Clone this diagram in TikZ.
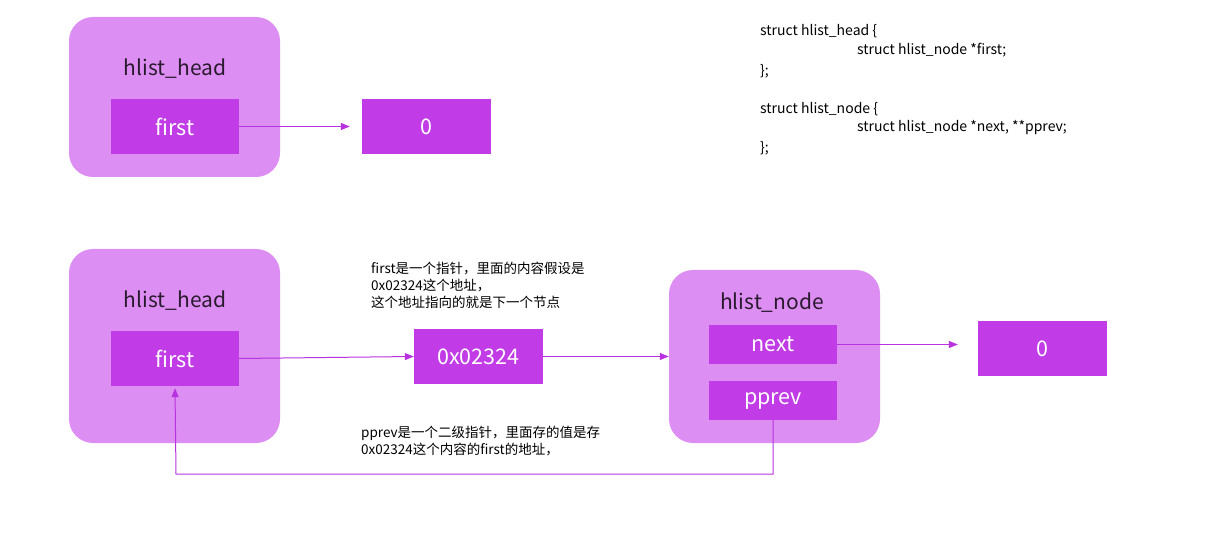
\documentclass[tikz,border=0pt]{standalone}
\usepackage{fontspec}
\setmainfont{Noto Sans CJK SC}
\usetikzlibrary{arrows.meta}
\definecolor{outerc}{HTML}{DD8EF2}
\definecolor{innerc}{HTML}{C13BE6}
\definecolor{linec}{HTML}{B832E0}
\definecolor{titlec}{HTML}{2A1A2E}
\tikzset{
  outerbox/.style={fill=outerc, draw=none, rounded corners=24pt, inner sep=0pt},
  field/.style={fill=innerc, draw=none, inner sep=0pt, text=white, font=\fontsize{21.5}{25}\selectfont},
  title/.style={text=titlec, font=\fontsize{21}{25}\selectfont, inner sep=0pt},
  note/.style={anchor=north west, align=left, inner sep=0pt, font=\fontsize{13.5}{17}\selectfont, text=black},
  code/.style={anchor=west, inner sep=0pt, font=\fontsize{14}{15}\selectfont, text=black},
  ptr/.style={draw=linec, line width=1pt, -{Triangle[length=9pt,width=7pt]}},
}
\begin{document}
\begin{tikzpicture}[x=1pt,y=-1pt]
\useasboundingbox (0,0) rectangle (1231,534);
% top hlist_head
\node[outerbox, minimum width=211pt, minimum height=160pt] (h1) at (174.5,97) {};
\node[title] (h1t) at (175,69) {hlist\_head};
\node[field, minimum width=128pt, minimum height=55pt] (f1) at (175,126.5) {first};
\node[field, minimum width=129pt, minimum height=55pt] (z1) at (426.5,126.5) {0};
\draw[ptr, shorten >=12pt] (f1.east) -- (z1.west);
% code
\node[code] (c1) at (760,31) {struct hlist\_head \{};
\node[code] (c2) at (857,50) {struct hlist\_node *first;};
\node[code] (c3) at (760,71) {\};};
\node[code] (c4) at (760,109) {struct hlist\_node \{};
\node[code] (c5) at (857,128) {struct hlist\_node *next, **pprev;};
\node[code] (c6) at (760,148) {\};};
% bottom hlist_head
\node[outerbox, minimum width=211pt, minimum height=194pt] (h2) at (174.5,346) {};
\node[title] (h2t) at (175,301) {hlist\_head};
\node[field, minimum width=128pt, minimum height=55pt] (f2) at (175,358.5) {first};
% address box
\node[field, minimum width=129pt, minimum height=55pt] (a) at (478.5,356.5) {0x02324};
\draw[ptr] (f2.east) -- (a.west);
% hlist_node
\node[outerbox, minimum width=211pt, minimum height=173pt] (n) at (774.5,356.5) {};
\node[title] (nt) at (772,303) {hlist\_node};
\node[field, minimum width=128pt, minimum height=39pt] (nx) at (773,344.5) {next};
\node[field, minimum width=128pt, minimum height=39pt] (pp) at (773,400.5) {pprev};
\draw[ptr] (a.east) -- (a.east -| n.west);
\node[field, minimum width=129pt, minimum height=55pt] (z2) at (1042.5,348.5) {0};
\draw[ptr, shorten >=20pt] (nx.east) -- (nx.east -| z2.west);
% pprev back pointer
\coordinate (b1) at (773,474);
\coordinate (b2) at (176,474);
\draw[ptr] (pp.south) -- (b1) -- (b2) -- ([yshift=-2pt]f2.south);
% notes
\node[note] (n1) at (371,262) {first是一个指针，里面的内容假设是\\0x02324这个地址，\\这个地址指向的就是下一个节点};
\node[note] (n2) at (361,426) {pprev是一个二级指针，里面存的值是存\\0x02324这个内容的first的地址，};
\end{tikzpicture}
\end{document}
